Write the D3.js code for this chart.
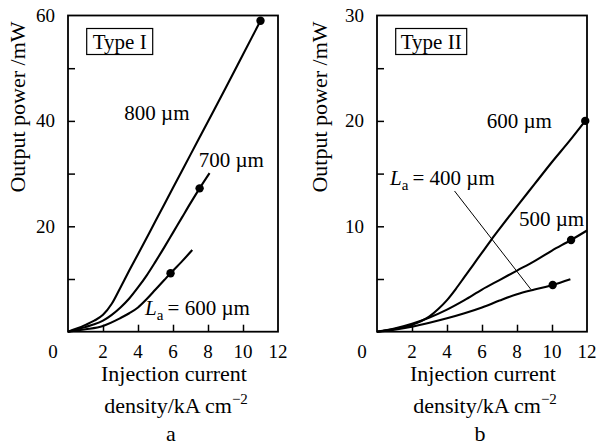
<!DOCTYPE html>
<html><head><meta charset="utf-8">
<script src="https://cdn.jsdelivr.net/npm/d3@7"></script>
<style>
body{margin:0;background:#fff}
svg{display:block}
text{font-family:"Liberation Serif","DejaVu Serif",serif}
</style></head>
<body><svg id="c" width="597" height="446" font-family="Liberation Serif, DejaVu Serif, serif"></svg>
<script>
// ---------- data ----------
const xTickValues = [2,4,6,8,10];
const xTickLabels = [2,4,6,8,10,12];
// Panel a (Type I)
const yMarksA = [10,20,30,40,50];
const yLabelsA = [20,40,60];
const jA800 = [0,0.5,1,1.5,2,2.5,3,3.5,4,5,6,7,8,9,10,11];
const pA800 = [0,0.6,1.3,2.1,3.2,5.3,8.4,11.6,14.7,21,27.3,33.6,39.9,46.2,52.6,59];
const jA700 = [0,0.5,1,1.5,2,2.5,3,3.5,4,4.5,5,5.5,6,6.5,7,7.52,8.09];
const pA700 = [0,0.4,0.9,1.4,2.1,3.2,4.6,6.3,8.4,10.7,13.3,16,18.8,21.6,24.4,27.2,30.1];
const jA600 = [0,1,2,3,3.5,4,4.5,5,5.5,5.86,6.5,7.1];
const pA600 = [0,0.45,1.1,2.6,3.5,4.6,6.2,8.0,9.8,11.1,13.3,15.5];
const dotsAj = [11,7.52,5.86];
const dotsAp = [59,27.2,11.1];
// Panel b (Type II)
const yMarksB = [5,10,15,20,25];
const yLabelsB = [10,20,30];
const jB600 = [0,1,2,3,3.5,4,4.5,5,5.5,6,6.5,7,8,9,10,11,11.9];
const pB600 = [0,0.25,0.65,1.45,2.15,3.0,4.05,5.2,6.35,7.5,8.65,9.75,11.9,14,16.1,18.1,20];
const jB500 = [0,1,2,3,4,5,6,7,8,9,10,11.09,12];
const pB500 = [0,0.3,0.75,1.35,2.1,3.0,4.0,4.9,5.8,6.7,7.7,8.7,9.6];
const jB400 = [0,1,2,3,4,5,6,7,8,9,10.04,11.05];
const pB400 = [0,0.2,0.48,0.85,1.27,1.75,2.3,2.95,3.55,4.0,4.43,4.97];
const dotsBj = [11.9,11.09,10.04];
const dotsBp = [20,8.7,4.43];
const leaderBj = [4.43,8.8];
const leaderBp = [13.35,4.0];

const zip = (a,b)=>a.map((v,i)=>[v,b[i]]);

const panels = [
  {x0:68, x1:278, ymax:60, marks:yMarksA, labels:yLabelsA, box:"Type I", letter:"a",
   curves:[zip(jA800,pA800),zip(jA700,pA700),zip(jA600,pA600)], dots:zip(dotsAj,dotsAp),
   notes:[{t:"800 µm",j:3.22,p:40.2},{t:"700 µm",j:7.47,p:31.3},{t:"= 600 µm",j:4.4,p:3.2,La:true}],
   leader:null, titleX:25, boxW:66},
  {x0:377, x1:587, ymax:30, marks:yMarksB, labels:yLabelsB, box:"Type II", letter:"b",
   curves:[zip(jB600,pB600),zip(jB500,pB500),zip(jB400,pB400)], dots:zip(dotsBj,dotsBp),
   notes:[{t:"600 µm",j:6.27,p:19.3},{t:"= 400 µm",j:0.74,p:13.95,La:true},{t:"500 µm",j:8.11,p:10.0}],
   leader:zip(leaderBj,leaderBp), titleX:327, boxW:71}
];

const svg = d3.select("#c");
const yTop = 15.5, yBot = 331.7;
const FF = "Liberation Serif, DejaVu Serif, serif";

panels.forEach(P=>{
  const x = d3.scaleLinear().domain([0,12]).range([P.x0,P.x1]);
  const y = d3.scaleLinear().domain([0,P.ymax]).range([yBot,yTop]);
  const g = svg.append("g").attr("font-family",FF);

  // curves
  const line = d3.line().x(d=>x(d[0])).y(d=>y(d[1])).curve(d3.curveMonotoneX);
  P.curves.forEach(c=>{
    g.append("path").attr("d",line(c)).attr("fill","none").attr("stroke","#000").attr("stroke-width",2.1);
  });
  g.selectAll(null).data(P.dots).enter().append("circle")
    .attr("cx",d=>x(d[0])).attr("cy",d=>y(d[1])).attr("r",4.2).attr("fill","#000");
  if(P.leader){
    g.append("path").attr("d",d3.line().x(d=>x(d[0])).y(d=>y(d[1]))(P.leader))
      .attr("stroke","#000").attr("stroke-width",1).attr("fill","none");
  }

  // frame
  g.append("rect").attr("x",x(0)).attr("y",y(P.ymax)).attr("width",x(12)-x(0)).attr("height",y(0)-y(P.ymax))
    .attr("fill","none").attr("stroke","#000").attr("stroke-width",1.8);

  // axes with inward ticks
  const xa = d3.axisTop(x).tickValues(xTickValues).tickSize(7).tickFormat("");
  g.append("g").attr("transform",`translate(0,${yBot})`).call(xa)
    .call(s=>{s.select(".domain").remove(); s.selectAll("line").attr("stroke-width",1.5);});
  const ya = d3.axisRight(y).tickValues(P.marks).tickSize(7).tickFormat("");
  g.append("g").attr("transform",`translate(${x(0)},0)`).call(ya)
    .call(s=>{s.select(".domain").remove(); s.selectAll("line").attr("stroke-width",1.5);});

  // tick labels
  g.selectAll(null).data(xTickLabels).enter().append("text")
    .attr("x",d=>x(d)).attr("y",358).attr("text-anchor","middle").attr("font-size",19).text(d=>d);
  g.append("text").attr("x",x(0)-15).attr("y",358).attr("text-anchor","middle").attr("font-size",19).text("0");
  g.selectAll(null).data(P.labels).enter().append("text")
    .attr("x",x(0)-13).attr("y",d=>y(d)+6.5).attr("text-anchor","end").attr("font-size",19).text(d=>d);

  // axis titles
  const cx = (P.x0+P.x1)/2+1;
  g.append("text").attr("x",cx).attr("y",381).attr("text-anchor","middle").attr("font-size",22).text("Injection current");
  const t2 = g.append("text").attr("x",cx+2).attr("y",413).attr("text-anchor","middle").attr("font-size",22);
  t2.append("tspan").text("density/kA cm");
  t2.append("tspan").attr("dy",-9).attr("font-size",15).text("\u22122");
  g.append("text").attr("x",cx-3).attr("y",441).attr("text-anchor","middle").attr("font-size",22).text(P.letter);
  g.append("text").attr("transform",`translate(${P.titleX},107) rotate(-90)`).attr("text-anchor","middle")
    .attr("font-size",22).text("Output power /mW");

  // type box
  const bx = x(0)+18.7, by = 28.5;
  g.append("rect").attr("x",bx).attr("y",by).attr("width",P.boxW).attr("height",26)
    .attr("fill","#fff").attr("stroke","#000").attr("stroke-width",1.2);
  g.append("text").attr("x",bx+P.boxW/2).attr("y",by+20).attr("text-anchor","middle").attr("font-size",21).text(P.box);

  // annotations
  P.notes.forEach(n=>{
    const t = g.append("text").attr("x",x(n.j)).attr("y",y(n.p)).attr("font-size",21);
    if(n.La){
      t.append("tspan").attr("font-style","italic").text("L");
      t.append("tspan").attr("dy",5).attr("font-size",15).text("a");
      t.append("tspan").attr("dy",-5).text("\u2009"+n.t);
    } else t.text(n.t);
  });
});
</script></body></html>
